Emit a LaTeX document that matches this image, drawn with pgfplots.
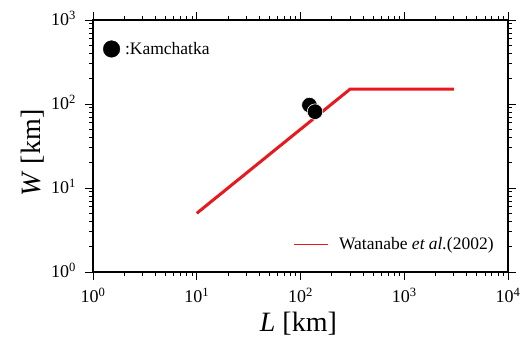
\documentclass[border=0pt]{standalone}
\usepackage{fontspec}
\setmainfont{Liberation Serif}
\usepackage{pgfplots}
\pgfplotsset{compat=1.18}
\definecolor{wred}{RGB}{232,25,30}
\begin{document}
\begin{tikzpicture}
\begin{axis}[
  name=ax,
  scale only axis, width=415pt, height=252pt,
  xmode=log, ymode=log,
  xmin=1, xmax=10000, ymin=1, ymax=1000,
  axis line style={line width=1.2pt},
  tick align=outside,
  major tick length=8pt, minor tick length=4pt,
  every tick/.style={black, line width=0.9pt},
  xtick={1,10,100,1000,10000},
  xticklabels={10\textsuperscript{0},10\textsuperscript{1},10\textsuperscript{2},10\textsuperscript{3},10\textsuperscript{4}},
  minor xtick={2,3,4,5,6,7,8,9,20,30,40,50,60,70,80,90,200,300,400,500,600,700,800,900,2000,3000,4000,5000,6000,7000,8000,9000},
  ytick={1,10,100,1000},
  yticklabels={10\textsuperscript{0},10\textsuperscript{1},10\textsuperscript{2},10\textsuperscript{3}},
  minor ytick={2,3,4,5,6,7,8,9,20,30,40,50,60,70,80,90,200,300,400,500,600,700,800,900},
  tick label style={font=\fontsize{18}{18}\selectfont, inner sep=0pt},
  xticklabel style={anchor=base, yshift=-22.7pt},
  yticklabel style={anchor=base east, xshift=-9pt, yshift=-5.7pt},
  xlabel={\textit{L} [km]},
  ylabel={\textit{W} [km]},
  every axis x label/.style={at={([yshift=-59.6pt]axis description cs:0.495,0)}, anchor=base, font=\fontsize{28}{28}\selectfont},
  every axis y label/.style={at={([xshift=-52.5pt]axis description cs:0,0.472)}, rotate=90, anchor=base, font=\fontsize{28}{28}\selectfont},
  legend style={at={(0.4827,0.11)}, anchor=west, draw=none, fill=none,
    font=\fontsize{17.5}{17.5}\selectfont, inner sep=0pt, nodes={inner sep=0pt}, column sep=0pt},
  legend image code/.code={\draw[#1, line width=1.3pt] (0pt,0pt) -- (33.4pt,0pt); \path (43.4pt,0pt);},
  clip=false,
]
\addplot[only marks, mark=*, mark size=7.8pt, mark options={fill=black, draw=white, line width=0.6pt}, forget plot]
  coordinates {(122,97) (138,81)};
\addplot[only marks, mark=*, mark size=8.3pt, mark options={fill=black, draw=black}, forget plot]
  coordinates {(1.51,452)};
\node[anchor=base west, inner sep=0pt, font=\fontsize{17.5}{17.5}\selectfont] at (axis cs:1.51,452) [xshift=13.3pt, yshift=-5.5pt] {:Kamchatka};
\addplot[wred, line width=3pt] coordinates {(10,5) (300,150) (3000,150)};
\addlegendentry{Watanabe \textit{et al.}(2002)}
\end{axis}
\path (ax.south west) ++(-93pt,-66pt) rectangle ++(526pt,338pt);
\end{tikzpicture}
\end{document}
